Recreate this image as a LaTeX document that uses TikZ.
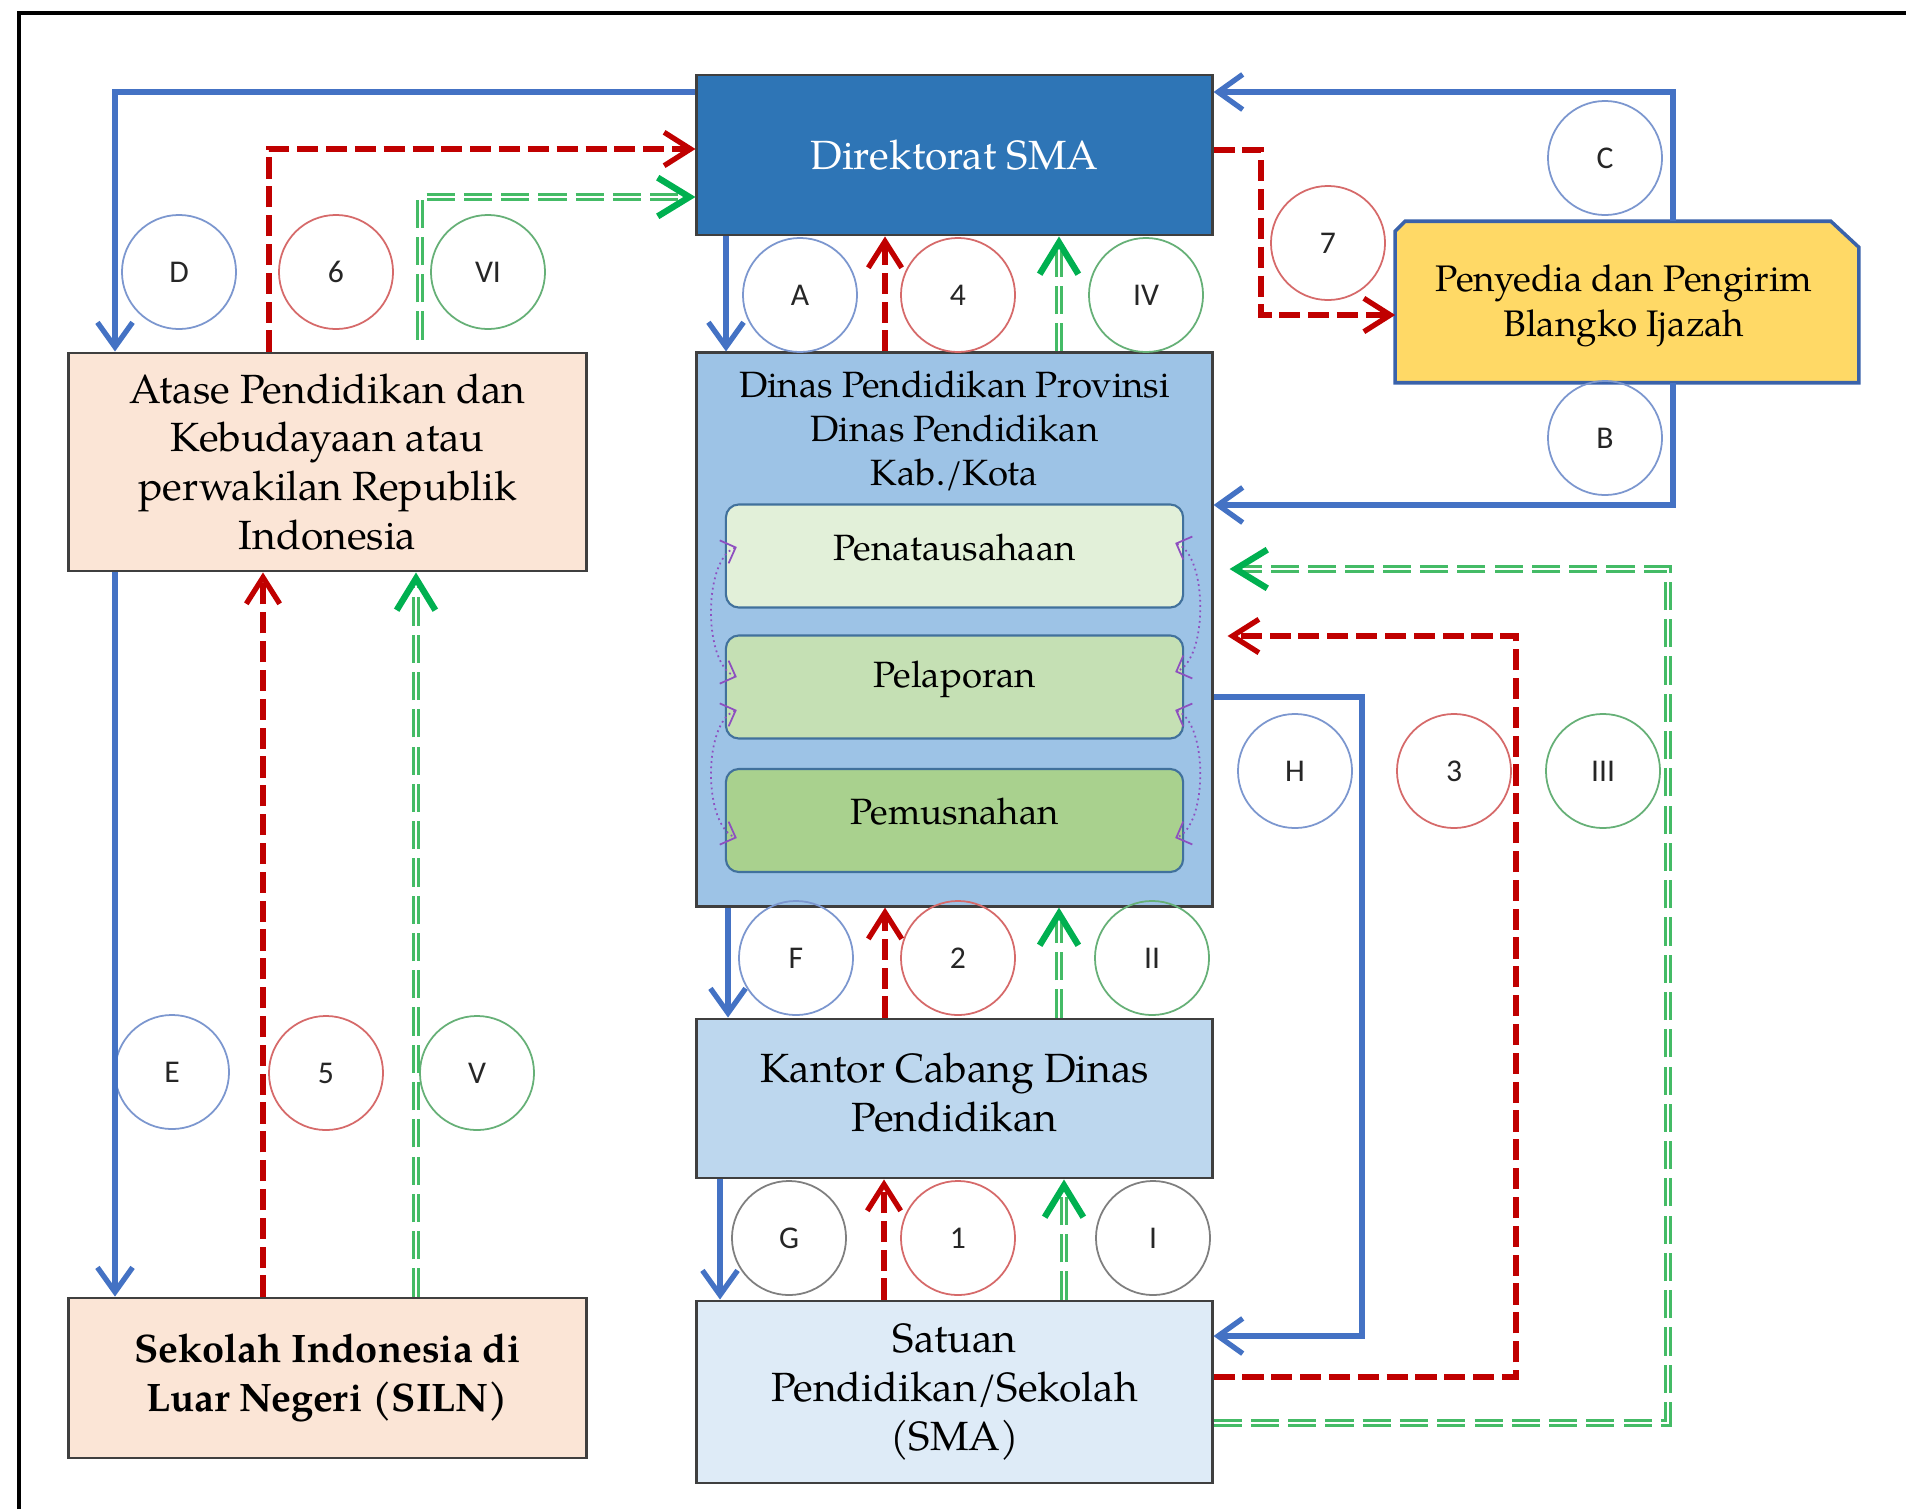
\documentclass[tikz,border=0pt]{standalone}
\usepackage{fontspec}
\setmainfont{texgyrepagella}[Extension=.otf, UprightFont=*-regular, BoldFont=*-bold, ItalicFont=*-italic, BoldItalicFont=*-bolditalic]
\newfontfamily\circfont{Carlito}
\usetikzlibrary{arrows.meta,calc,backgrounds}
\definecolor{cDir}{HTML}{2E75B6}
\definecolor{cDinas}{HTML}{9DC3E6}
\definecolor{cKantor}{HTML}{BDD7EE}
\definecolor{cSatuan}{HTML}{DEEBF7}
\definecolor{cPeach}{HTML}{FBE5D6}
\definecolor{cPeny}{HTML}{FFD966}
\definecolor{cPenyB}{HTML}{3A62AA}
\definecolor{cIn1}{HTML}{E2F0D9}
\definecolor{cIn2}{HTML}{C5E0B4}
\definecolor{cIn3}{HTML}{A9D18E}
\definecolor{cInB}{HTML}{41719C}
\definecolor{cBorder}{HTML}{3F3F3F}
\definecolor{cBlue}{HTML}{4472C4}
\definecolor{cRed}{HTML}{C00000}
\definecolor{cGreenL}{HTML}{44BB66}
\definecolor{cGreenT}{HTML}{00B050}
\definecolor{cCircB}{HTML}{7C97CF}
\definecolor{cCircR}{HTML}{D66A6A}
\definecolor{cCircG}{HTML}{66B077}
\definecolor{cCircK}{HTML}{7F7F7F}
\definecolor{cPurp}{HTML}{8E4FC0}
\newcommand{\grnarrow}[1]{\draw[gl] #1; \draw[gt] #1;}
\begin{document}
\begin{tikzpicture}[x=0.01cm, y=-0.01cm,
  box/.style={draw=cBorder, line width=0.8pt, minimum width=5.15cm, align=center, inner sep=0pt},
  inbox/.style={draw=cInB, line width=0.6pt, rounded corners=0.13cm, minimum width=4.57cm, minimum height=1.03cm, inner sep=0pt},
  txt/.style={align=center, inner sep=0pt},
  big/.style={font=\fontsize{11.6}{13.9}\selectfont},
  circ/.style={circle, draw, line width=0.5pt, minimum size=1.14cm, inner sep=0pt, font=\circfont\fontsize{9}{10}\selectfont, text=black!85},
  cb/.style={circ, draw=cCircB}, cr/.style={circ, draw=cCircR},
  cg/.style={circ, draw=cCircG}, ck/.style={circ, draw=cCircK},
  bl/.style={draw=cBlue, line width=1.5pt, -{Straight Barb[length=7pt,width=10pt]}},
  rd/.style={draw=cRed, line width=1.5pt, dash pattern=on 6pt off 2.2pt, -{Straight Barb[length=7.5pt,width=9.5pt]}},
  gl/.style={draw=cGreenL, line width=0.75pt, double=white, double distance=0.8pt, dash pattern=on 8pt off 2.6pt, shorten >=4pt},
  gt/.style={draw=cGreenT, line width=1.8pt, dash pattern=on 0pt off 300cm, -{Straight Barb[length=9pt,width=11pt]}},
  pu/.style={draw=cPurp, line width=0.5pt, densely dotted, {Straight Barb[length=3.5pt,width=7pt]}-{Straight Barb[length=3.5pt,width=7pt]}}
]
\useasboundingbox (0,0) rectangle (1906,1509);
% frame
\draw[line width=0.9pt] (19,1509) -- (19,13) -- (1906,13);

% boxes
\node[box, fill=cDir, text=white, big, minimum height=1.6cm] (dir) at (954.5,155) {Direktorat SMA};
\node[box, fill=cDinas, minimum height=5.53cm] (dinas) at (954.5,629.5) {};
\node[txt, font=\fontsize{10.4}{12.5}\selectfont] (dinast) at (954.5,431) {Dinas Pendidikan Provinsi\\Dinas Pendidikan\\Kab./Kota};
\node[inbox, fill=cIn1] (pen1) at (954.5,556) {};
\node[txt, font=\fontsize{10.4}{12}\selectfont] (pen1t) at (954.5,548) {Penatausahaan};
\node[inbox, fill=cIn2] (pen2) at (954.5,687) {};
\node[txt, font=\fontsize{10.4}{12}\selectfont] (pen2t) at (954.5,679) {Pelaporan};
\node[inbox, fill=cIn3] (pen3) at (954.5,820.5) {};
\node[txt, font=\fontsize{10.4}{12}\selectfont] (pen3t) at (954.5,812) {Pemusnahan};
\node[box, fill=cKantor, minimum height=1.59cm] (kantor) at (954.5,1098.5) {};
\node[txt, big] (kantort) at (954.5,1093) {Kantor Cabang Dinas\\Pendidikan};
\node[box, fill=cSatuan, big, minimum height=1.82cm] (satuan) at (954.5,1392) {Satuan\\Pendidikan/Sekolah\\(SMA)};
\node[box, fill=cPeach, big, minimum width=5.17cm, minimum height=2.18cm] (atase) at (327.5,462) {Atase Pendidikan dan\\Kebudayaan atau\\perwakilan Republik\\Indonesia};
\node[box, fill=cPeach, font=\bfseries\fontsize{11.3}{13.9}\selectfont, minimum width=5.17cm, minimum height=1.6cm] (siln) at (327.5,1378) {Sekolah Indonesia di\\Luar Negeri (SILN)};
\node[txt, font=\fontsize{10.5}{12.8}\selectfont, minimum width=4.62cm, minimum height=1.6cm] (peny) at (1627,302) {};
\node[txt, font=\fontsize{10.5}{12.8}\selectfont] (penyt) at (1624,306) {Penyedia dan Pengirim\\Blangko Ijazah};
\begin{scope}[on background layer]
  \fill[white] (0,0) rectangle (1906,1509);
  \draw[draw=cPenyB, line width=1pt, fill=cPeny] (peny.south west) -- ([yshift=-0.1cm]peny.north west) -- ([xshift=0.1cm]peny.north west) -- ([xshift=-0.28cm]peny.north east) -- ([yshift=-0.26cm]peny.north east) -- (peny.south east) -- cycle;
\end{scope}

% circles
\node[cb] (cD) at (179,272) {D};
\node[cr] (c6) at (336,272) {6};
\node[cg] (cVI) at (488,272) {VI};
\node[cb] (cA) at (800,295) {A};
\node[cr] (c4) at (958,295) {4};
\node[cg] (cIV) at (1146,295) {IV};
\node[cr] (c7) at (1328,243) {7};
\node[cb] (cC) at (1605,158) {C};
\node[cb] (cB) at (1605,438) {B};
\node[cb] (cH) at (1295,771) {H};
\node[cr] (c3) at (1454,771) {3};
\node[cg] (cIII) at (1603,771) {III};
\node[cb] (cF) at (796,958) {F};
\node[cr] (c2) at (958,958) {2};
\node[cg] (cII) at (1152,958) {II};
\node[cb] (cE) at (172,1072) {E};
\node[cr] (c5) at (326,1073) {5};
\node[cg] (cV) at (477,1073) {V};
\node[ck] (cG) at (789,1238) {G};
\node[cr] (c1) at (958,1238) {1};
\node[ck] (cI) at (1153,1238) {I};

% blue arrows
\draw[bl] (dir.west |- 0,92) -| (atase.north -| 115,0);
\draw[bl] (dir.south -| 726,0) -- (dinas.north -| 726,0);
\draw[bl] (peny.north -| 1673,0) |- (dir.east |- 0,92);
\draw[bl] (peny.south -| 1673,0) |- (dinas.east |- 0,505);
\draw[bl] (dinas.east |- 0,697) -- (1362,697) |- (satuan.east |- 0,1336);
\draw[bl] (dinas.south -| 728,0) -- (kantor.north -| 728,0);
\draw[bl] (kantor.south -| 720,0) -- (satuan.north -| 720,0);
\draw[bl] (atase.south -| 115,0) -- (siln.north -| 115,0);

% red arrows
\draw[rd] (satuan.north -| 884,0) -- (kantor.south -| 884,0);
\draw[rd] (kantor.north -| 885,0) -- (dinas.south -| 885,0);
\draw[rd] (dinas.north -| 885,0) -- (dir.south -| 885,0);
\draw[rd] (satuan.east |- 0,1377) -- (1516,1377) |- ([xshift=0.14cm]dinas.east |- 0,636);
\draw[rd] (siln.north -| 263,0) -- (atase.south -| 263,0);
\draw[rd] (atase.north -| 269,0) |- (dir.west |- 0,149);
\draw[rd] (dir.east |- 0,150) -- (1261,150) |- (peny.west |- 0,315);

% green arrows
\grnarrow{(satuan.north -| 1064,0) -- (kantor.south -| 1064,0)}
\grnarrow{(kantor.north -| 1059,0) -- (dinas.south -| 1059,0)}
\grnarrow{(dinas.north -| 1059,0) -- (dir.south -| 1059,0)}
\grnarrow{(satuan.east |- 0,1423) -- (1668,1423) |- ([xshift=0.16cm]dinas.east |- 0,569)}
\grnarrow{(siln.north -| 416,0) -- (atase.south -| 416,0)}
\grnarrow{([yshift=0.12cm]atase.north -| 420,0) |- (dir.west |- 0,197)}

% purple loops
\draw[pu] ([xshift=0.12cm]pen1.west |- 0,547) .. controls (703,560) and (703,664) .. ([xshift=0.12cm]pen2.west |- 0,677);
\draw[pu] ([xshift=0.12cm]pen2.west |- 0,710) .. controls (703,723) and (703,825) .. ([xshift=0.12cm]pen3.west |- 0,838);
\draw[pu] ([xshift=-0.09cm]pen1.east |- 0,543) .. controls (1208,556) and (1208,659) .. ([xshift=-0.09cm]pen2.east |- 0,672);
\draw[pu] ([xshift=-0.09cm]pen2.east |- 0,710) .. controls (1208,723) and (1208,825) .. ([xshift=-0.09cm]pen3.east |- 0,838);
\end{tikzpicture}
\end{document}
